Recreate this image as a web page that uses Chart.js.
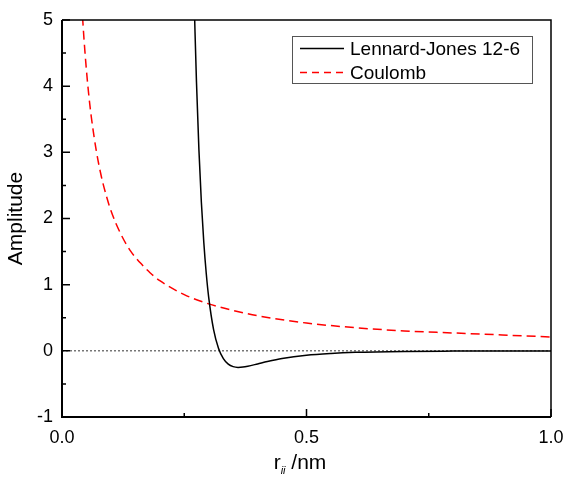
<!DOCTYPE html>
<html>
<head>
<meta charset="utf-8">
<script src="https://cdn.jsdelivr.net/npm/chart.js@4"></script>
<style>
  body { margin: 0; background: #fff; }
</style>
</head>
<body>
<canvas id="potChart" width="563" height="477"></canvas>
<script>
// values
const ljR = [0.271, 0.272, 0.275, 0.28, 0.285, 0.29, 0.295, 0.30, 0.31, 0.32, 0.33, 0.34, 0.35, 0.36, 0.37, 0.38, 0.40, 0.42, 0.45, 0.50, 0.55, 0.60, 0.70, 0.80, 0.90, 1.00];
const ljAmp = [5.105, 4.823, 4.064, 3.037, 2.246, 1.638, 1.169, 0.809, 0.321, 0.040, -0.118, -0.201, -0.239, -0.250, -0.246, -0.233, -0.198, -0.162, -0.116, -0.066, -0.039, -0.023, -0.009, -0.004, -0.002, -0.001];

const coulR = [0.042, 0.045, 0.05, 0.055, 0.06, 0.07, 0.08, 0.09, 0.10, 0.12, 0.14, 0.16, 0.18, 0.20, 0.25, 0.30, 0.35, 0.40, 0.50, 0.60, 0.70, 0.80, 0.90, 1.00];
const coulAmp = [5.05, 4.71, 4.24, 3.85, 3.53, 3.03, 2.65, 2.36, 2.12, 1.77, 1.51, 1.33, 1.18, 1.06, 0.85, 0.71, 0.61, 0.53, 0.42, 0.35, 0.30, 0.27, 0.24, 0.21];

const zeroR = [0, 1];
const zeroAmp = [0, 0];

const xMajor = [0, 0.5, 1.0];
const xMinor = [0.25, 0.75];
const yMajor = [-1, 0, 1, 2, 3, 4, 5];
const yMinor = [-0.5, 0.5, 1.5, 2.5, 3.5, 4.5];

const FONT = '"Liberation Sans", Arial, sans-serif';
const toPoints = (xs, ys) => xs.map((x, i) => ({ x: x, y: ys[i] }));

// frame, inward ticks, boxed legend and the subscripted x title
const decor = {
  id: 'decor',
  afterDraw(chart) {
    const { ctx, chartArea: a, scales } = chart;
    const xs = scales.x, ys = scales.y;
    ctx.save();
    ctx.strokeStyle = '#000';

    ctx.lineWidth = 1.5;
    ctx.beginPath();
    ctx.moveTo(a.left, a.top); ctx.lineTo(a.right, a.top); ctx.lineTo(a.right, a.bottom);
    ctx.stroke();
    ctx.lineWidth = 2;
    ctx.beginPath();
    ctx.moveTo(a.left, a.top); ctx.lineTo(a.left, a.bottom); ctx.lineTo(a.right, a.bottom);
    ctx.stroke();

    ctx.lineWidth = 1.5;
    ctx.beginPath();
    xMajor.forEach(v => { const p = xs.getPixelForValue(v); ctx.moveTo(p, a.bottom); ctx.lineTo(p, a.bottom - 8); });
    xMinor.forEach(v => { const p = xs.getPixelForValue(v); ctx.moveTo(p, a.bottom); ctx.lineTo(p, a.bottom - 4); });
    yMajor.forEach(v => { const p = ys.getPixelForValue(v); ctx.moveTo(a.left, p); ctx.lineTo(a.left + 8, p); });
    yMinor.forEach(v => { const p = ys.getPixelForValue(v); ctx.moveTo(a.left, p); ctx.lineTo(a.left + 4, p); });
    ctx.stroke();

    // legend
    const lx = 292, ly = 36, lw = 240, lh = 47;
    ctx.lineWidth = 1;
    ctx.strokeStyle = '#555';
    ctx.strokeRect(lx + 0.5, ly + 0.5, lw, lh);
    const items = chart.data.datasets.filter(d => d.label);
    items.forEach((d, i) => {
      const y = ly + 12.5 + i * 24;
      ctx.strokeStyle = d.borderColor;
      ctx.lineWidth = d.borderWidth;
      ctx.setLineDash(d.borderDash ? [7, 5] : []);
      ctx.beginPath();
      ctx.moveTo(lx + 8, y); ctx.lineTo(lx + 52, y);
      ctx.stroke();
      ctx.setLineDash([]);
      ctx.fillStyle = '#000';
      ctx.font = '19px ' + FONT;
      ctx.textBaseline = 'middle';
      ctx.textAlign = 'left';
      ctx.fillText(d.label, lx + 58, y + 1);
    });

    // x axis title: r_ii /nm
    ctx.fillStyle = '#000';
    ctx.textBaseline = 'alphabetic';
    ctx.textAlign = 'left';
    const big = '21px ' + FONT;
    const sub = 'italic 11px ' + FONT;
    ctx.font = big;
    const wr = ctx.measureText('r').width;
    const wn = ctx.measureText(' /nm').width;
    ctx.font = sub;
    const ws = ctx.measureText('ii').width;
    let tx = 300 - (wr + ws + wn) / 2;
    const base = 469;
    ctx.font = big; ctx.fillText('r', tx, base); tx += wr;
    ctx.font = sub; ctx.fillText('ii', tx, base + 5); tx += ws;
    ctx.font = big; ctx.fillText(' /nm', tx, base);
    ctx.restore();
  }
};

const ctx = document.getElementById('potChart').getContext('2d');
new Chart(ctx, {
  type: 'line',
  data: {
    datasets: [
      {
        label: 'Lennard-Jones 12-6',
        data: toPoints(ljR, ljAmp),
        borderColor: '#000000',
        borderWidth: 1.5,
        pointRadius: 0,
        cubicInterpolationMode: 'monotone'
      },
      {
        label: 'Coulomb',
        data: toPoints(coulR, coulAmp),
        borderColor: '#ff0000',
        borderWidth: 1.5,
        borderDash: [9, 5],
        pointRadius: 0,
        cubicInterpolationMode: 'monotone'
      },
      {
        label: '',
        data: toPoints(zeroR, zeroAmp),
        borderColor: '#333333',
        borderWidth: 1,
        borderDash: [2, 2],
        pointRadius: 0
      }
    ]
  },
  options: {
    responsive: false,
    animation: false,
    layout: { padding: { left: 0, right: 12, top: 20, bottom: 0 } },
    plugins: {
      legend: { display: false },
      tooltip: { enabled: false }
    },
    scales: {
      x: {
        type: 'linear',
        min: 0,
        max: 1,
        grid: { display: false },
        border: { display: false },
        ticks: {
          stepSize: 0.5,
          padding: 2,
          color: '#000',
          font: { size: 18, family: FONT },
          callback: v => v.toFixed(1)
        },
        afterFit: s => { s.height = 60; s.paddingLeft = 0; s.paddingRight = 0; }
      },
      y: {
        min: -1,
        max: 5,
        grid: { display: false },
        border: { display: false },
        ticks: {
          stepSize: 1,
          padding: 1,
          color: '#000',
          font: { size: 18, family: FONT }
        },
        title: {
          display: true,
          text: 'Amplitude',
          color: '#000',
          font: { size: 21, family: FONT },
          padding: { top: 4, bottom: 0 }
        },
        afterFit: s => { s.width = 62; s.paddingTop = 0; s.paddingBottom = 0; }
      }
    }
  },
  plugins: [decor]
});
</script>
</body>
</html>
